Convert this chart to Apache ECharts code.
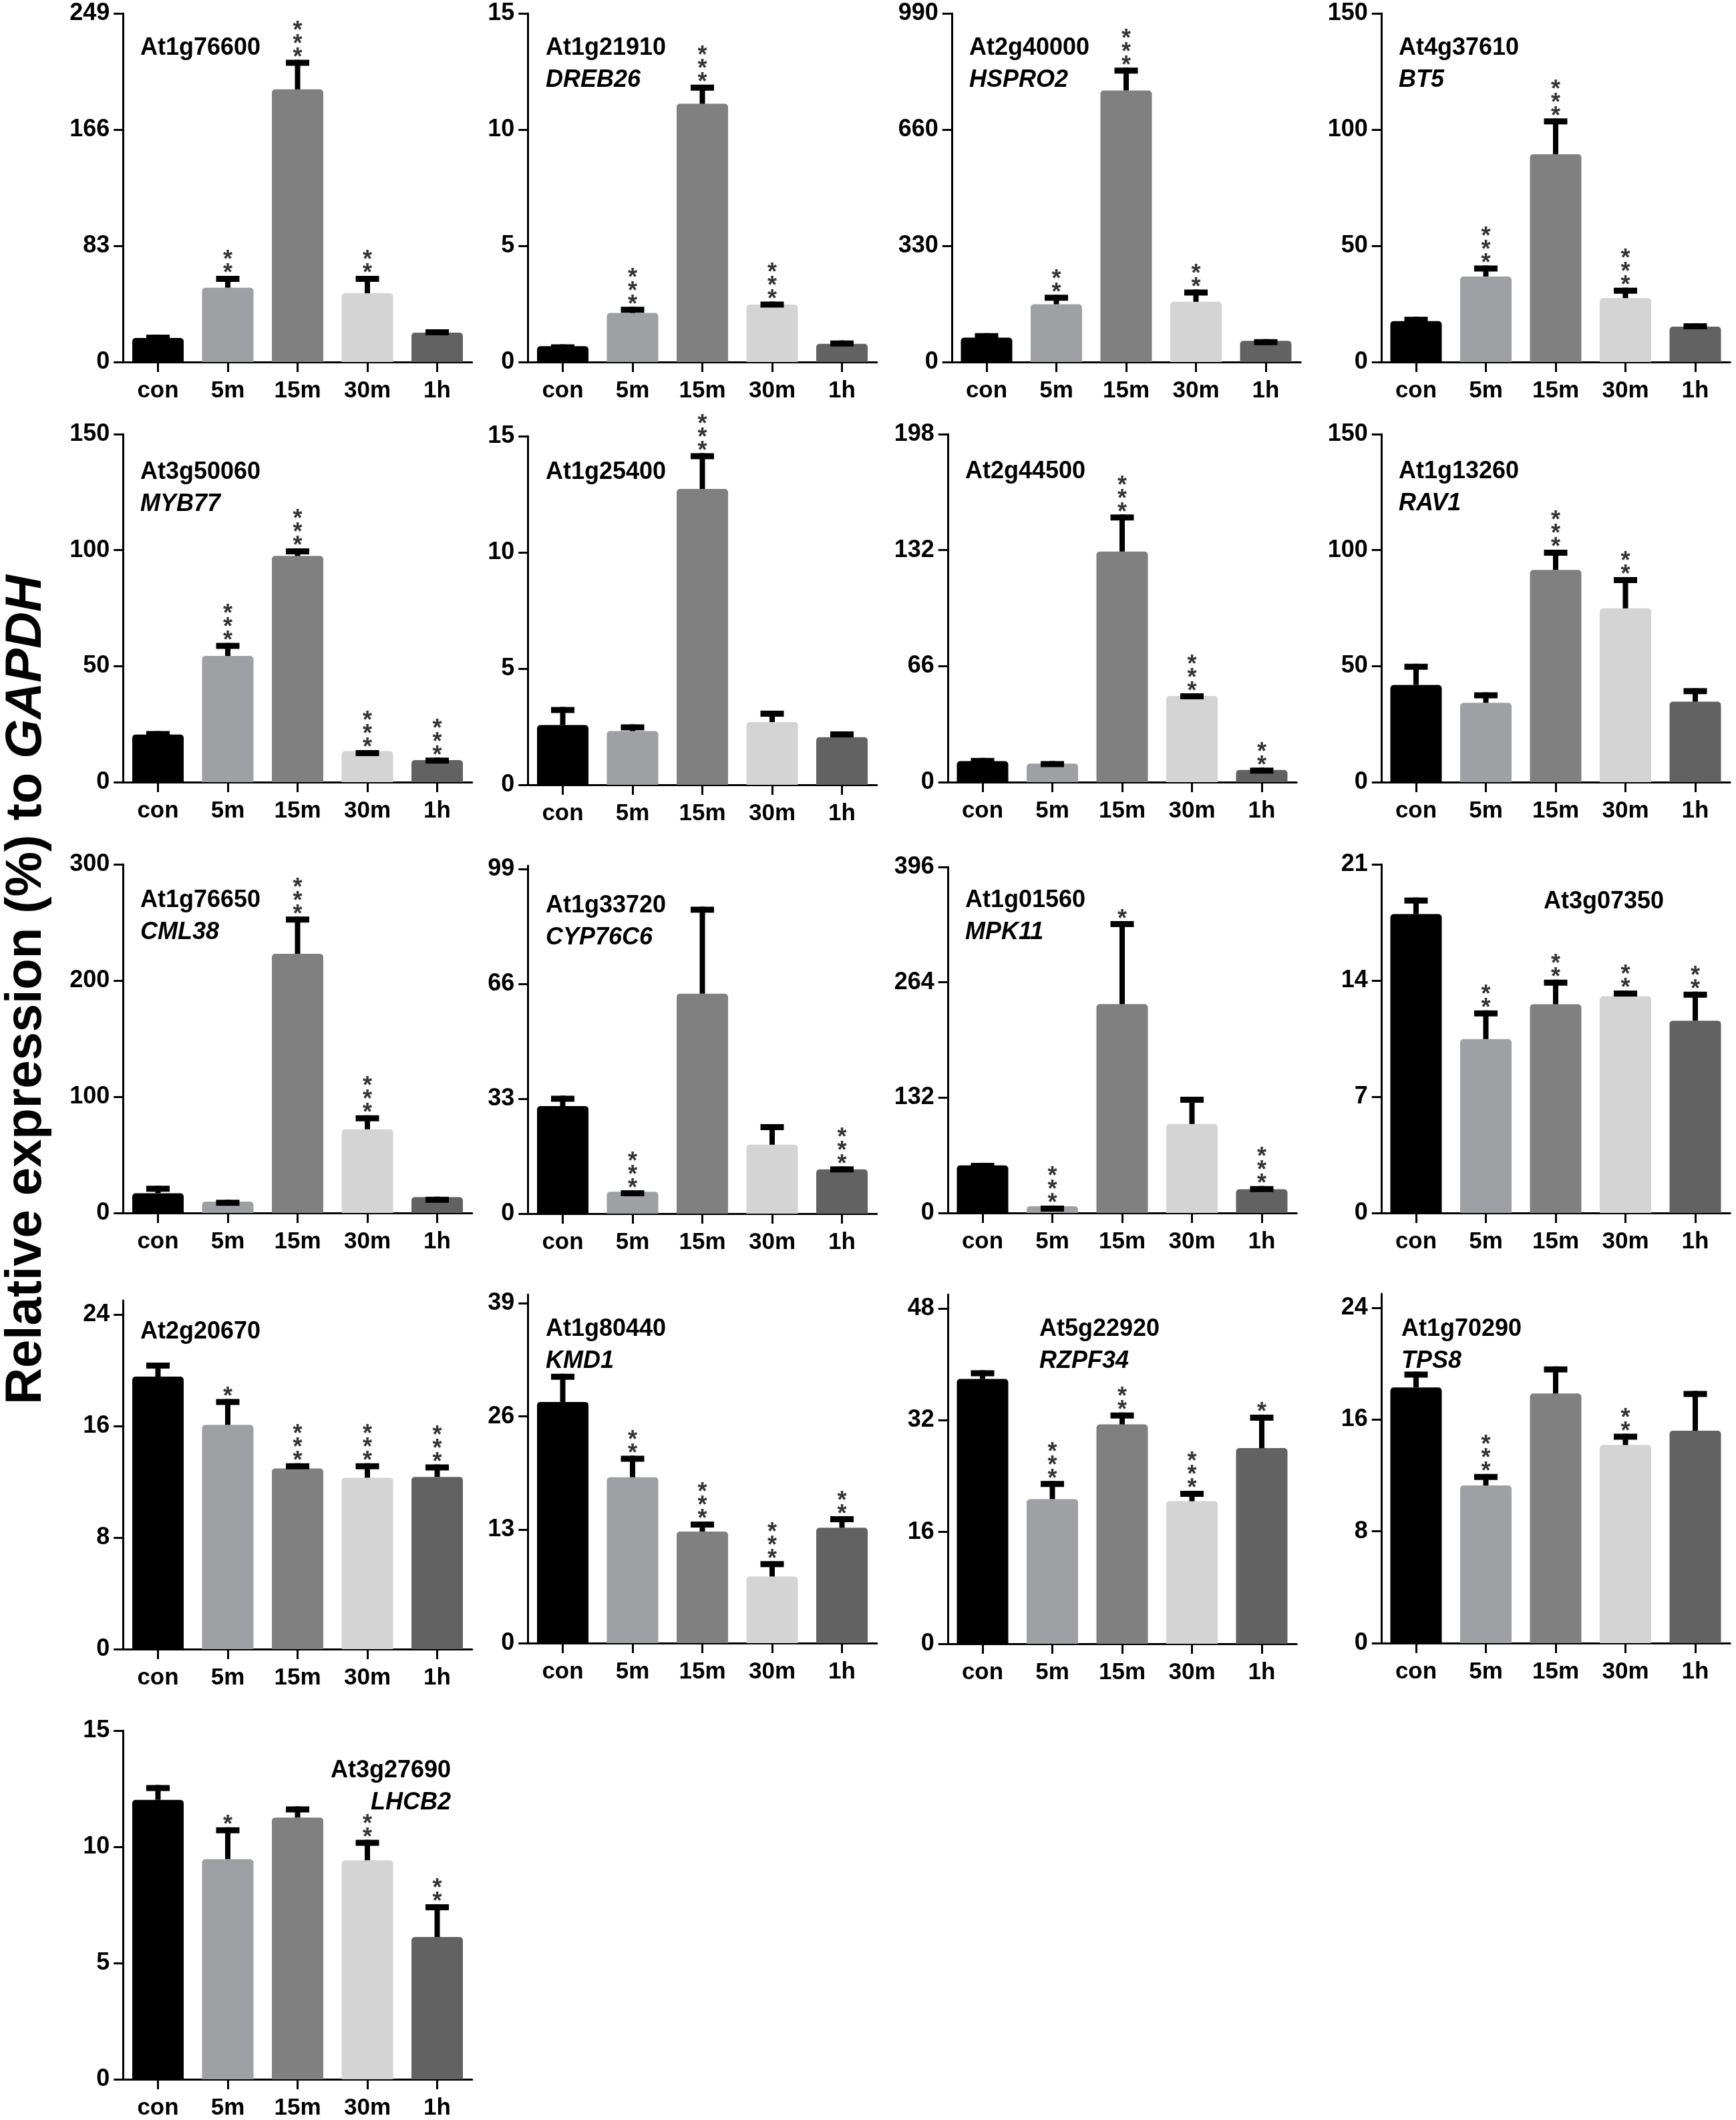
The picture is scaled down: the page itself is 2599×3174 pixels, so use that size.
<!DOCTYPE html>
<html lang="en">
<head>
<meta charset="UTF-8">
<title>Relative expression (%) to GAPDH</title>
<script src="https://cdn.jsdelivr.net/npm/echarts@6.0.0/dist/echarts.min.js"></script>
<style>
  body { margin: 0; background: #fff; }
  #chart { width: 2599px; height: 3174px; }
</style>
</head>
<body>
<div id="chart"></div>
<script>
// ---- data ----
const categories = ['con', '5m', '15m', '30m', '1h'];
const barColors = ['#000000', '#9fa0a4', '#808080', '#d4d4d4', '#626262'];

const geneIds = [
  'At1g76600', 'At1g21910', 'At2g40000', 'At4g37610',
  'At3g50060', 'At1g25400', 'At2g44500', 'At1g13260',
  'At1g76650', 'At1g33720', 'At1g01560', 'At3g07350',
  'At2g20670', 'At1g80440', 'At5g22920', 'At1g70290',
  'At3g27690'
];
const geneNames = [
  '', 'DREB26', 'HSPRO2', 'BT5',
  'MYB77', '', '', 'RAV1',
  'CML38', 'CYP76C6', 'MPK11', '',
  '', 'KMD1', 'RZPF34', 'TPS8',
  'LHCB2'
];

// mean per time point
const meanValues = [
  [17.2, 53.1, 194.7, 49.1, 21.0],
  [0.68, 2.11, 11.11, 2.47, 0.78],
  [69, 164, 771, 171, 60],
  [17.6, 36.8, 89.4, 27.5, 15.2],
  [20.5, 54.4, 97.5, 13.4, 9.5],
  [2.57, 2.31, 12.73, 2.7, 2.05],
  [12, 10.5, 131.2, 49, 6.9],
  [41.9, 34.2, 91.5, 74.9, 34.7],
  [17, 9.8, 223, 72, 13.6],
  [30.9, 6.3, 63.2, 19.8, 12.7],
  [54.4, 7.6, 239, 101.8, 27.2],
  [18, 10.47, 12.57, 13.05, 11.58],
  [19.54, 16.08, 12.95, 12.29, 12.35],
  [27.67, 19.03, 12.8, 7.64, 13.24],
  [37.9, 20.7, 31.4, 20.4, 28.0],
  [18.3, 11.28, 17.86, 14.18, 15.2],
  [12.02, 9.47, 11.26, 9.42, 6.12]
];
// upper error (SEM)
const semValues = [
  [2.4, 8.4, 21.1, 12.4, 2.4],
  [0.08, 0.27, 0.82, 0.13, 0.15],
  [13, 27, 65, 35, 5],
  [1.9, 4.7, 15.4, 4.5, 1.5],
  [1.5, 5.6, 3.3, 0.4, 1.1],
  [0.78, 0.29, 1.54, 0.49, 0.25],
  [1.8, 1.5, 21.1, 1.5, 1.4],
  [9.1, 4.5, 8.7, 13.5, 5.8],
  [6.4, 1.6, 32, 12, 0.4],
  [3.0, 0.4, 25.0, 5.9, 0.9],
  [3.0, 0.9, 95, 31.2, 3.6],
  [1.0, 1.73, 1.48, 0.35, 1.75],
  [1.0, 1.85, 0.38, 1.04, 0.89],
  [3.23, 2.47, 1.15, 1.76, 1.31],
  [1.25, 2.6, 1.7, 1.5, 4.8],
  [1.13, 0.82, 1.94, 0.8, 2.85],
  [0.64, 1.37, 0.48, 0.88, 1.41]
];
const starMarks = [
  ['', '**', '***', '**', ''],
  ['', '***', '***', '***', ''],
  ['', '**', '***', '**', ''],
  ['', '***', '***', '***', ''],
  ['', '***', '***', '***', '***'],
  ['', '', '***', '', ''],
  ['', '', '***', '***', '**'],
  ['', '', '***', '**', ''],
  ['', '', '***', '***', ''],
  ['', '***', '', '', '***'],
  ['', '***', '*', '', '***'],
  ['', '**', '**', '**', '**'],
  ['', '*', '***', '***', '***'],
  ['', '**', '***', '***', '**'],
  ['', '***', '**', '***', '*'],
  ['', '***', '', '**', ''],
  ['', '*', '', '**', '**']
];
const axisMax = [249, 15, 990, 150, 150, 15, 198, 150, 300, 100, 396, 21, 25, 40, 50, 25, 15];
const axisTicks = [
  [0, 83, 166, 249], [0, 5, 10, 15], [0, 330, 660, 990], [0, 50, 100, 150],
  [0, 50, 100, 150], [0, 5, 10, 15], [0, 66, 132, 198], [0, 50, 100, 150],
  [0, 100, 200, 300], [0, 33, 66, 99], [0, 132, 264, 396], [0, 7, 14, 21],
  [0, 8, 16, 24], [0, 13, 26, 39], [0, 16, 32, 48], [0, 8, 16, 24],
  [0, 5, 10, 15]
];

// ---- layout (pixels): centre of first bar, axis top, zero line ----
const panelBoxes = [
  [236.5, 20, 542], [842.5, 20, 542], [1477, 20, 542], [2120, 20, 542],
  [236.5, 650, 1171], [842.5, 653, 1175], [1471, 650, 1171], [2120, 650, 1171],
  [236.5, 1294, 1816], [842.5, 1296, 1817], [1471, 1298, 1816], [2120, 1294, 1816],
  [236.5, 1947, 2469], [842.5, 1938, 2460], [1471, 1938, 2461], [2120, 1937, 2460],
  [236.5, 2591, 3115]
];
// gene label anchor: x, cap top, alignment
const titleSpots = [
  [210, 57, 'left'], [817, 57, 'left'], [1451, 57, 'left'], [2094, 57, 'left'],
  [210, 692, 'left'], [817, 692, 'left'], [1445, 691, 'left'], [2094, 691, 'left'],
  [210, 1333, 'left'], [817, 1341, 'left'], [1445, 1333, 'left'], [2311, 1335, 'left'],
  [210, 1979, 'left'], [817, 1975, 'left'], [1556, 1975, 'left'], [2098, 1975, 'left'],
  [675, 2636, 'right']
];

const FONT = '"Liberation Sans", Arial, Helvetica, sans-serif';
const BAND = 104.5;

const chart = echarts.init(document.getElementById('chart'), null, { width: 2599, height: 3174 });

function errorBar(params, api) {
  const x = api.value(0);
  const base = api.coord([x, api.value(1)]);
  const tip = api.coord([x, api.value(2)]);
  return {
    type: 'group',
    children: [
      { type: 'rect', shape: { x: tip[0] - 4, y: tip[1], width: 8, height: Math.max(base[1] - tip[1], 0) }, style: { fill: '#000' } },
      { type: 'rect', shape: { x: tip[0] - 17.5, y: tip[1], width: 35, height: 9 }, style: { fill: '#000' } }
    ]
  };
}

const grids = [], xAxes = [], yAxes = [], series = [], graphics = [];

geneIds.forEach((id, k) => {
  const [cx, top, zero] = panelBoxes[k];
  grids.push({ left: cx - BAND / 2, top: top, width: BAND * 5, height: zero - top });

  xAxes.push({
    type: 'category', gridIndex: k, data: categories,
    axisLine: { lineStyle: { color: '#000', width: 3 } },
    axisTick: { show: true, alignWithLabel: true, length: 15, lineStyle: { color: '#000', width: 3 } },
    axisLabel: { color: '#000', fontSize: 35, fontWeight: 'bold', fontFamily: FONT, margin: 26 },
    splitLine: { show: false }
  });

  yAxes.push({
    type: 'value', gridIndex: k, min: 0, max: axisMax[k],
    axisLine: { show: true, lineStyle: { color: '#000', width: 3 } },
    axisTick: { show: true, length: 14, lineStyle: { color: '#000', width: 3 }, customValues: axisTicks[k] },
    axisLabel: { color: '#000', fontSize: 36, fontWeight: 'bold', fontFamily: FONT, margin: 20, customValues: axisTicks[k] },
    splitLine: { show: false }
  });

  series.push({
    type: 'bar', xAxisIndex: k, yAxisIndex: k, barWidth: 77, silent: true,
    itemStyle: { borderRadius: [5, 5, 0, 0] },
    data: meanValues[k].map((v, i) => ({ value: v, itemStyle: { color: barColors[i] } }))
  });

  series.push({
    type: 'custom', xAxisIndex: k, yAxisIndex: k, silent: true, z: 3,
    renderItem: errorBar,
    encode: { x: 0, y: [1, 2] },
    data: meanValues[k].map((v, i) => [i, v, v + semValues[k][i]])
  });

  series.push({
    type: 'scatter', xAxisIndex: k, yAxisIndex: k, silent: true, z: 4,
    symbolSize: 1, itemStyle: { color: 'rgba(0,0,0,0)' },
    label: {
      show: true, position: 'top', distance: 0, offset: [0, 8],
      color: '#000', fontSize: 36, fontWeight: 'bold', lineHeight: 20, fontFamily: FONT,
      formatter: p => starMarks[k][p.dataIndex].split('').join('\n')
    },
    data: meanValues[k].map((v, i) => [i, v + semValues[k][i]])
  });

  const [tx, capTop, align] = titleSpots[k];
  const name = geneNames[k];
  graphics.push({
    type: 'text', x: tx, y: capTop - 9, silent: true,
    style: {
      text: name ? '{a|' + id + '}\n{b|' + name + '}' : '{a|' + id + '}',
      align: align, verticalAlign: 'top',
      rich: {
        a: { fontSize: 36, fontWeight: 'bold', fontFamily: FONT, lineHeight: 48, fill: '#000' },
        b: { fontSize: 36, fontWeight: 'bold', fontStyle: 'italic', fontFamily: FONT, lineHeight: 48, fill: '#000' }
      }
    }
  });
});

// shared y-axis title
graphics.push({
  type: 'text', x: 40, y: 1482, rotation: Math.PI / 2, silent: true,
  style: {
    text: '{n|Relative expression (%) to }{i|GAPDH}',
    align: 'center', verticalAlign: 'middle',
    rich: {
      n: { fontSize: 76, fontWeight: 'bold', fontFamily: FONT, fill: '#000' },
      i: { fontSize: 76, fontWeight: 'bold', fontStyle: 'italic', fontFamily: FONT, fill: '#000' }
    }
  }
});

chart.setOption({
  backgroundColor: '#fff',
  animation: false,
  grid: grids,
  xAxis: xAxes,
  yAxis: yAxes,
  series: series,
  graphic: graphics
});
</script>
</body>
</html>
